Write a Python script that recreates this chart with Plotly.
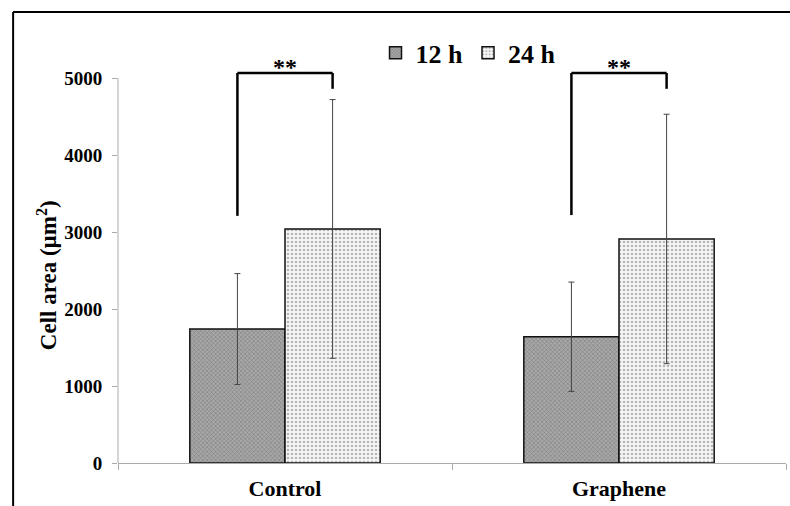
import plotly.graph_objects as go

categories = ["Control", "Graphene"]
series_names = ["12 h", "24 h"]
means_12h = [1740, 1640]
err_12h = [720, 710]
means_24h = [3040, 2910]
err_24h = [1680, 1620]
yticks = [0, 1000, 2000, 3000, 4000, 5000]

# significance brackets: (category index, left-leg bottom, right-leg bottom, top)
bracket_cat = [0, 1]
bracket_left_bottom = [3210, 3220]
bracket_right_bottom = [4860, 4860]
bracket_top = [5065, 5065]
bracket_label = ["**", "**"]

FONT = "Liberation Serif"
bargap = 0.43
half = (1 - bargap) / 4  # offset of each bar center from category center

fig = go.Figure()
fig.add_trace(go.Bar(
    name=series_names[0], x=categories, y=means_12h,
    error_y=dict(type="data", array=err_12h, color="#444", thickness=1, width=3),
    marker=dict(color="#9a9a9a", line=dict(color="#111", width=1.5),
                pattern=dict(shape="x", size=3, solidity=0.35, fgcolor="#505050", bgcolor="#a8a8a8")),
))
fig.add_trace(go.Bar(
    name=series_names[1], x=categories, y=means_24h,
    error_y=dict(type="data", array=err_24h, color="#444", thickness=1, width=3),
    marker=dict(color="#ffffff", line=dict(color="#111", width=1.5),
                pattern=dict(shape=".", size=4, solidity=0.35, fgcolor="#777", bgcolor="#f6f6f6")),
))

shapes = []
annotations = []
for i, c in enumerate(bracket_cat):
    xl = c - half
    xr = c + half
    line = dict(color="black", width=2.5)
    shapes.append(dict(type="line", xref="x", yref="y", x0=xl, x1=xl,
                       y0=bracket_left_bottom[i], y1=bracket_top[i], line=line))
    shapes.append(dict(type="line", xref="x", yref="y", x0=xl, x1=xr,
                       y0=bracket_top[i], y1=bracket_top[i], line=line))
    shapes.append(dict(type="line", xref="x", yref="y", x0=xr, x1=xr,
                       y0=bracket_top[i], y1=bracket_right_bottom[i], line=line))
    annotations.append(dict(x=c, y=bracket_top[i], xref="x", yref="y", text="<b>" + bracket_label[i] + "</b>",
                            showarrow=False, yanchor="bottom", yshift=-9,
                            font=dict(family=FONT, size=24, color="black")))

# y-axis line from 0 to top tick
shapes.append(dict(type="line", xref="paper", yref="y", x0=0, x1=0, y0=yticks[0], y1=yticks[-1],
                   line=dict(color="#aaaaaa", width=1)))
# outer frame (left and top edges visible)
shapes.append(dict(type="line", xref="paper", yref="paper", x0=-0.157, x1=1.02, y0=1.066, y1=1.066,
                   line=dict(color="black", width=2)))
shapes.append(dict(type="line", xref="paper", yref="paper", x0=-0.157, x1=-0.157, y0=-0.11, y1=1.066,
                   line=dict(color="black", width=2)))

annotations.append(dict(text="<b>Cell area (µm<sup>2</sup>)</b>", textangle=-90, xref="paper", yref="paper",
                        x=-0.1063, y=0.444, xanchor="center", yanchor="middle", showarrow=False,
                        font=dict(family=FONT, size=23, color="black")))

fig.update_layout(
    width=790, height=506,
    margin=dict(l=118, r=4, t=40, b=43),
    paper_bgcolor="white", plot_bgcolor="white",
    barmode="group", bargap=bargap, bargroupgap=0,
    font=dict(family=FONT, color="black"),
    showlegend=True,
    legend=dict(orientation="h", x=0.3855, y=1.025, xanchor="left", yanchor="top",
                font=dict(family=FONT, size=26, color="black", weight="bold"),
                bgcolor="rgba(0,0,0,0)", traceorder="normal"),
    shapes=shapes, annotations=annotations,
)
fig.update_xaxes(type="category", showline=True, linecolor="#aaaaaa", linewidth=1,
                 ticks="outside", tickson="boundaries", ticklen=6, tickcolor="#aaaaaa",
                 tickfont=dict(family=FONT, size=22, color="black", weight="bold"),
                 ticklabelstandoff=6, range=[-0.5, 1.5], showgrid=False, zeroline=False)
fig.update_yaxes(range=[0, 5494], tickvals=yticks, ticks="outside", ticklen=5, tickcolor="#aaaaaa",
                 tickfont=dict(family=FONT, size=19, color="black", weight="bold"),
                 ticklabelstandoff=6, showline=False, showgrid=False, zeroline=False)

fig.write_html("out.html", config={"displayModeBar": False},
               post_script="document.body.style.margin='0';document.body.style.overflow='hidden';")
